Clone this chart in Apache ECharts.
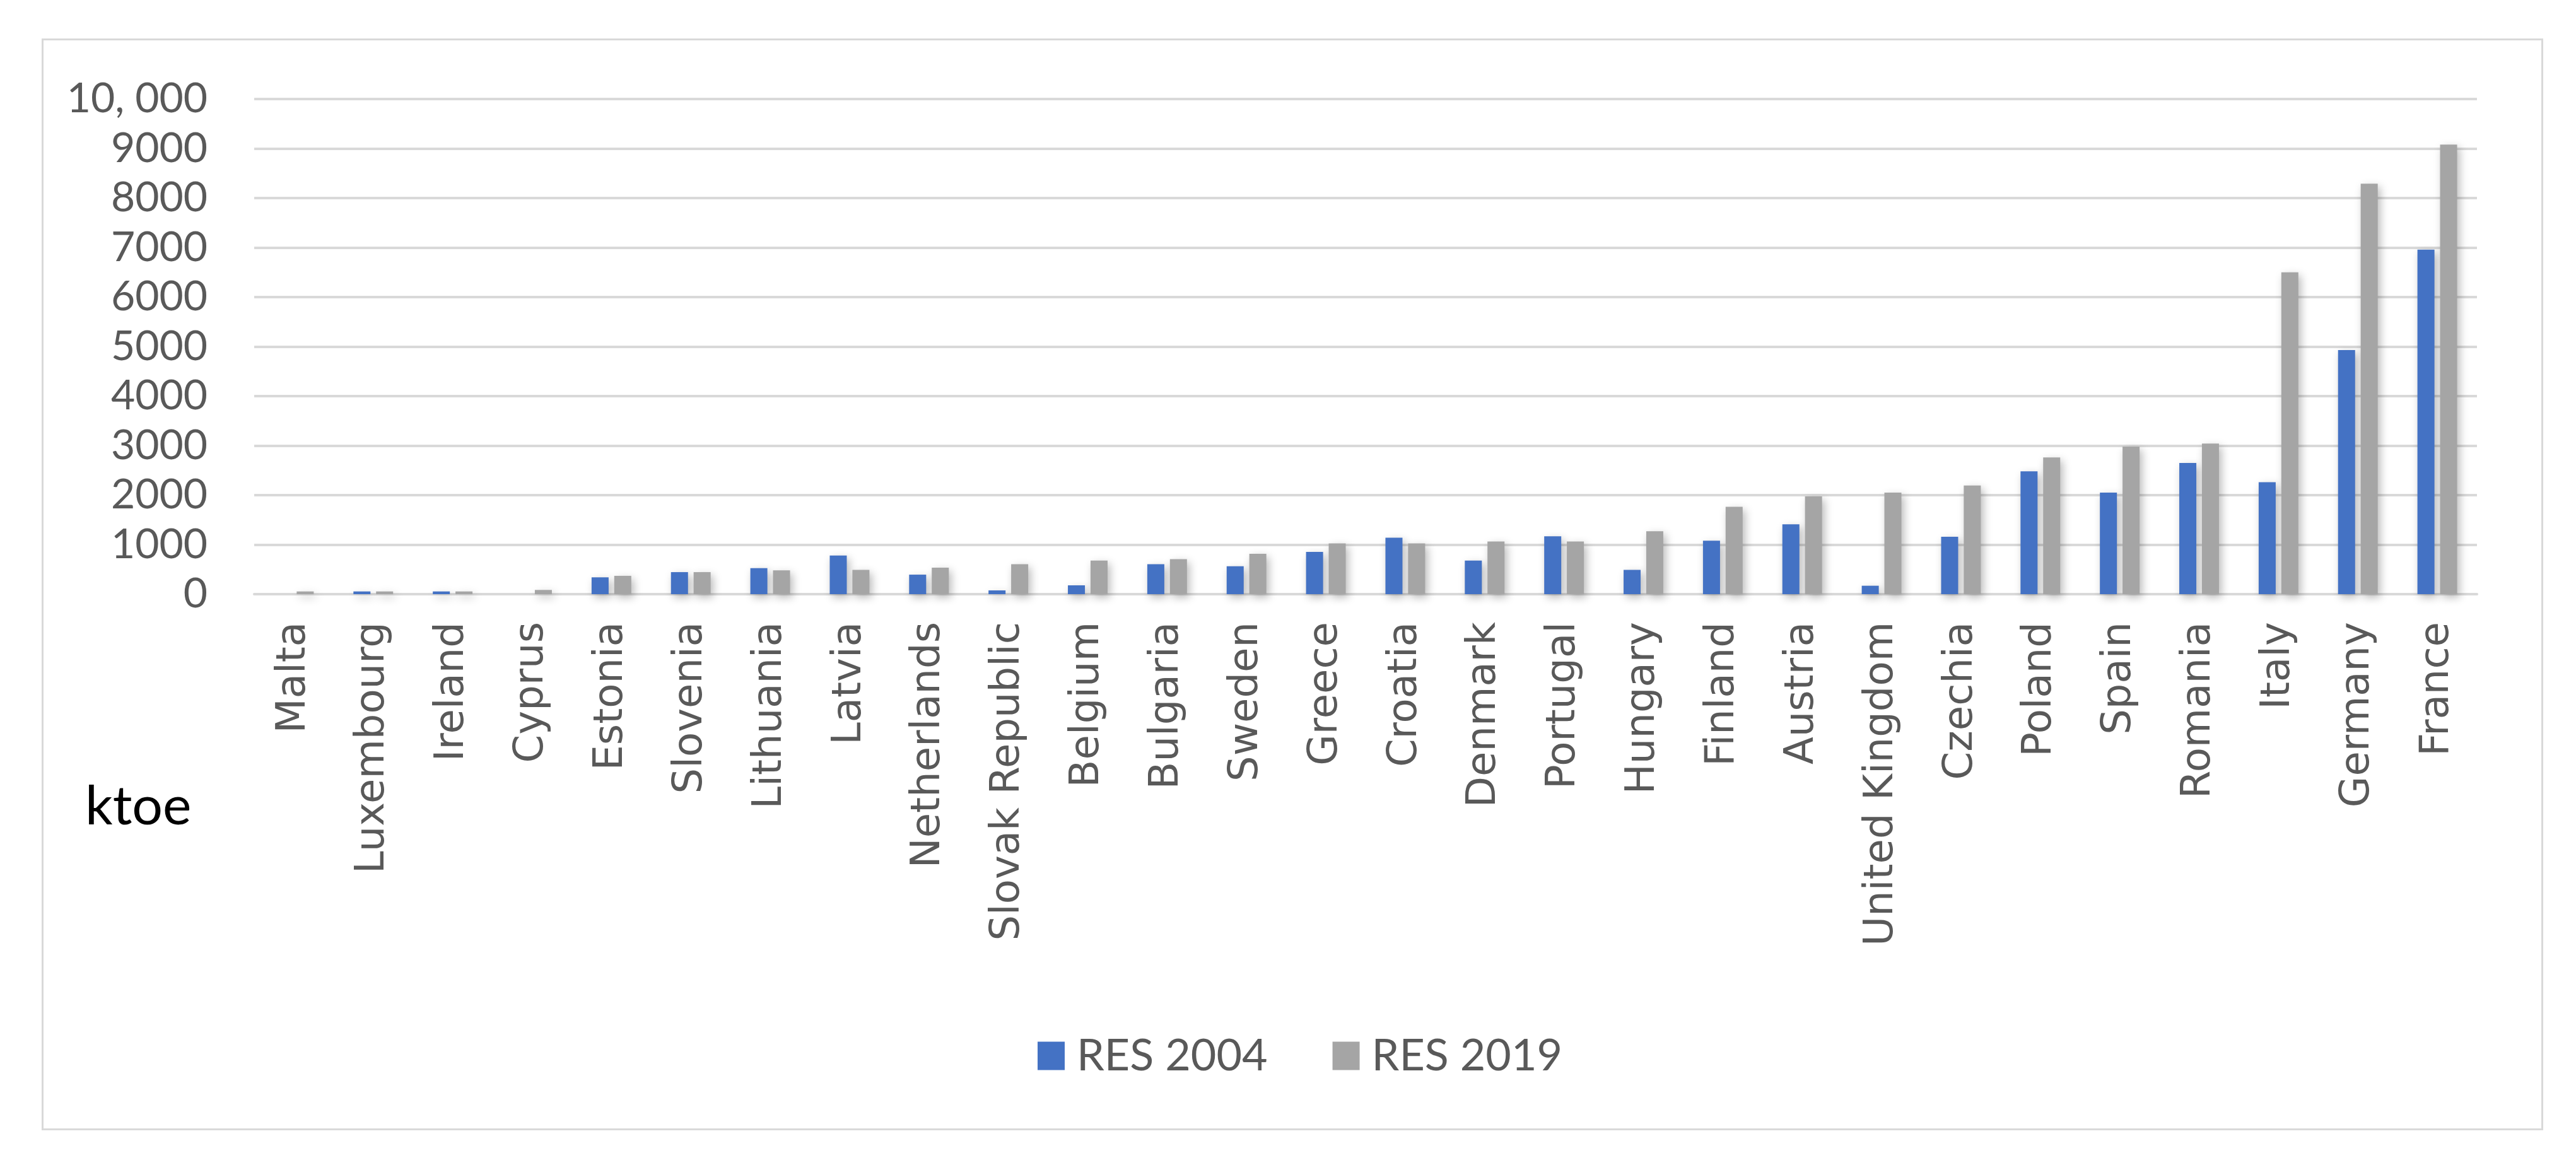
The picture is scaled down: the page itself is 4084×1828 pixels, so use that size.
<!DOCTYPE html>
<html>
<head>
<meta charset="utf-8">
<script src="https://cdn.jsdelivr.net/npm/echarts@6/dist/echarts.min.js"></script>
<style>
html,body{margin:0;padding:0;background:#fff;}
#chart{width:4084px;height:1828px;}
</style>
</head>
<body>
<div id="chart"></div>
<script>
const countries = ["Malta","Luxembourg","Ireland","Cyprus","Estonia","Slovenia","Lithuania","Latvia","Netherlands","Slovak Republic","Belgium","Bulgaria","Sweden","Greece","Croatia","Denmark","Portugal","Hungary","Finland","Austria","United Kingdom","Czechia","Poland","Spain","Romania","Italy","Germany","France"];
const res2004 = [0,55,55,0,340,445,525,780,394,76,178,606,564,852,1140,678,1170,490,1080,1410,170,1160,2480,2050,2650,2260,4930,6960];
const res2019 = [55,55,55,85,370,445,480,490,534,606,678,708,814,1025,1025,1063,1063,1270,1765,1975,2050,2195,2760,2980,3040,6500,8290,9080];
const yTickLabels = {0:"0",1000:"1000",2000:"2000",3000:"3000",4000:"4000",5000:"5000",6000:"6000",7000:"7000",8000:"8000",9000:"9000",10000:"10, 000"};
const seriesNames = ["RES 2004","RES 2019"];
const unitLabel = "ktoe";

const chart = echarts.init(document.getElementById('chart'));
const shadow = {shadowColor:'rgba(0,0,0,0.28)', shadowBlur:14, shadowOffsetX:4, shadowOffsetY:5};
chart.setOption({
  animation:false,
  backgroundColor:'#ffffff',
  grid:{left:403, right:157, top:157, bottom:886, containLabel:false},
  legend:{
    data:seriesNames,
    left:1640, top:1634,
    itemWidth:43, itemHeight:45, itemGap:103,
    icon:'rect',
    textStyle:{fontFamily:'Lato', fontSize:70, color:'#595959', padding:[0,0,0,14]}
  },
  xAxis:{
    type:'category',
    data:countries,
    axisLine:{show:true, lineStyle:{color:'#D9D9D9', width:4}},
    axisTick:{show:false},
    axisLabel:{rotate:90, margin:44, fontFamily:'DejaVu Sans', fontSize:64, color:'#595959', interval:0}
  },
  yAxis:{
    type:'value',
    min:0, max:10000, interval:1000,
    axisLine:{show:false},
    axisTick:{show:false},
    splitLine:{lineStyle:{color:'#D9D9D9', width:4}},
    axisLabel:{margin:74, fontFamily:'Lato', fontSize:66, color:'#595959',
      formatter:function(v){return yTickLabels[v] !== undefined ? yTickLabels[v] : String(v);}}
  },
  series:[
    {name:seriesNames[0], type:'bar', data:res2004, barWidth:27, barGap:'33%',
     itemStyle:Object.assign({color:'#4472C4'}, shadow)},
    {name:seriesNames[1], type:'bar', data:res2019, barWidth:27, barGap:'33%',
     itemStyle:Object.assign({color:'#A5A5A5'}, shadow)}
  ],
  graphic:[
    {type:'rect', left:65, top:60, shape:{width:3963, height:1728}, style:{fill:'none', stroke:'#D9D9D9', lineWidth:3}, z:-1},
    {type:'text', left:135, top:1236, style:{text:unitLabel, fontFamily:'Lato', fontSize:86, fill:'#000000'}}
  ]
});
</script>
</body>
</html>
